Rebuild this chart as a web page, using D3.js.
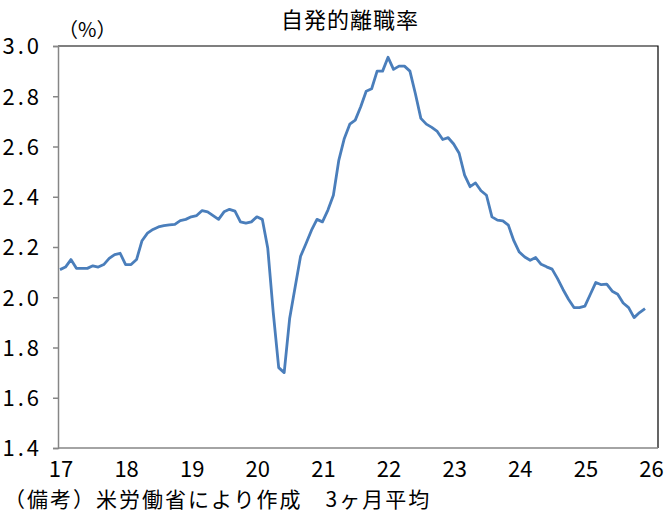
<!DOCTYPE html>
<html>
<head>
<meta charset="utf-8">
<script src="https://cdn.jsdelivr.net/npm/d3@7"></script>
<style>
  body { margin: 0; background: #fff; }
  text { font-family: "Noto Sans CJK JP", sans-serif; fill: #000; }
</style>
</head>
<body>
<div id="chart"></div>
<script>
// 自発的離職率 (3ヶ月平均), monthly Jan 2017 - Dec 2025
var quitRate = [
  2.11, 2.12, 2.15, 2.115, 2.115, 2.115, 2.125, 2.12, 2.13, 2.155, 2.17, 2.175,
  2.13, 2.13, 2.15, 2.225, 2.255, 2.27, 2.28, 2.285, 2.288, 2.29, 2.305, 2.31,
  2.32, 2.325, 2.345, 2.34, 2.325, 2.31, 2.34, 2.35, 2.343, 2.30, 2.295, 2.30,
  2.32, 2.31, 2.195, 1.94, 1.72, 1.70, 1.915, 2.04, 2.163, 2.214, 2.267, 2.31,
  2.30, 2.347, 2.406, 2.546, 2.632, 2.689, 2.705, 2.758, 2.82, 2.83, 2.90, 2.90,
  2.955, 2.907, 2.92, 2.92, 2.90, 2.81, 2.712, 2.689, 2.676, 2.66, 2.628, 2.635,
  2.61, 2.573, 2.486, 2.44, 2.455, 2.424, 2.406, 2.32, 2.307, 2.304, 2.287, 2.225,
  2.18, 2.16, 2.147, 2.158, 2.131, 2.121, 2.112, 2.074, 2.031, 1.992, 1.959, 1.959,
  1.965, 2.012, 2.059, 2.05, 2.052, 2.024, 2.012, 1.977, 1.959, 1.919, 1.939, 1.955
]
var yTicks = [1.4, 1.6, 1.8, 2.0, 2.2, 2.4, 2.6, 2.8, 3.0]
var yearTicks = [17, 18, 19, 20, 21, 22, 23, 24, 25, 26]

var width = 666
var height = 515
var plot = { left: 58, right: 658, top: 46, bottom: 448 }

var svg = d3.select('#chart').append('svg')
  .attr('width', width)
  .attr('height', height)

// month index 0 = Jan 2017; one year = 12 months
var x = d3.scaleLinear().domain([0, 108]).range([60, 650.5])
var y = d3.scaleLinear().domain([1.4, 3.0]).range([plot.bottom, plot.top])

// frame: top and right borders black
svg.append('path')
  .attr('d', 'M' + plot.left + ',' + plot.top + 'H' + plot.right + 'V' + plot.bottom)
  .attr('fill', 'none')
  .attr('stroke', '#000')
  .attr('stroke-width', 1.2)

// y axis (gray, ticks outward)
var yAxis = svg.append('g')
  .attr('transform', 'translate(' + plot.left + ',0)')
  .call(d3.axisLeft(y).tickValues(yTicks).tickSize(5).tickFormat(function (d) { return d.toFixed(1) }))
yAxis.select('.domain').attr('stroke', '#868686').attr('stroke-width', 1.5)
yAxis.selectAll('.tick line').attr('stroke', '#868686').attr('stroke-width', 1.5)
yAxis.selectAll('.tick text')
  .attr('x', -16)
  .attr('dy', '0.36em')
  .style('font-size', '22px')
  .style('letter-spacing', '3px')
  .style('font-family', '"Noto Sans CJK JP", sans-serif')
  .attr('fill', '#000')

// x axis line
svg.append('line')
  .attr('x1', plot.left).attr('x2', plot.right)
  .attr('y1', plot.bottom).attr('y2', plot.bottom)
  .attr('stroke', '#868686')
  .attr('stroke-width', 1.5)

// year labels
svg.selectAll('.year')
  .data(yearTicks)
  .enter().append('text')
  .attr('class', 'year')
  .attr('x', function (d) { return x((d - 17) * 12) + 1 })
  .attr('y', 477)
  .attr('text-anchor', 'middle')
  .style('font-size', '22px')
  .text(function (d) { return d })

// the line
var line = d3.line()
  .x(function (d, i) { return x(i) })
  .y(function (d) { return y(d) })

svg.append('path')
  .datum(quitRate)
  .attr('d', line)
  .attr('fill', 'none')
  .attr('stroke', '#4a7ebb')
  .attr('stroke-width', 2.8)
  .attr('stroke-linejoin', 'round')

// title and notes
svg.append('text')
  .attr('x', 350)
  .attr('y', 28)
  .attr('text-anchor', 'middle')
  .style('font-size', '22px')
  .style('letter-spacing', '1px')
  .text('自発的離職率')

svg.append('text')
  .attr('x', 58)
  .attr('y', 37)
  .style('font-size', '20px')
  .text('（%）')

svg.append('text')
  .attr('x', 4)
  .attr('y', 507)
  .style('font-size', '21px')
  .style('letter-spacing', '2px')
  .text('（備考）米労働省により作成　3ヶ月平均')
</script>
</body>
</html>
